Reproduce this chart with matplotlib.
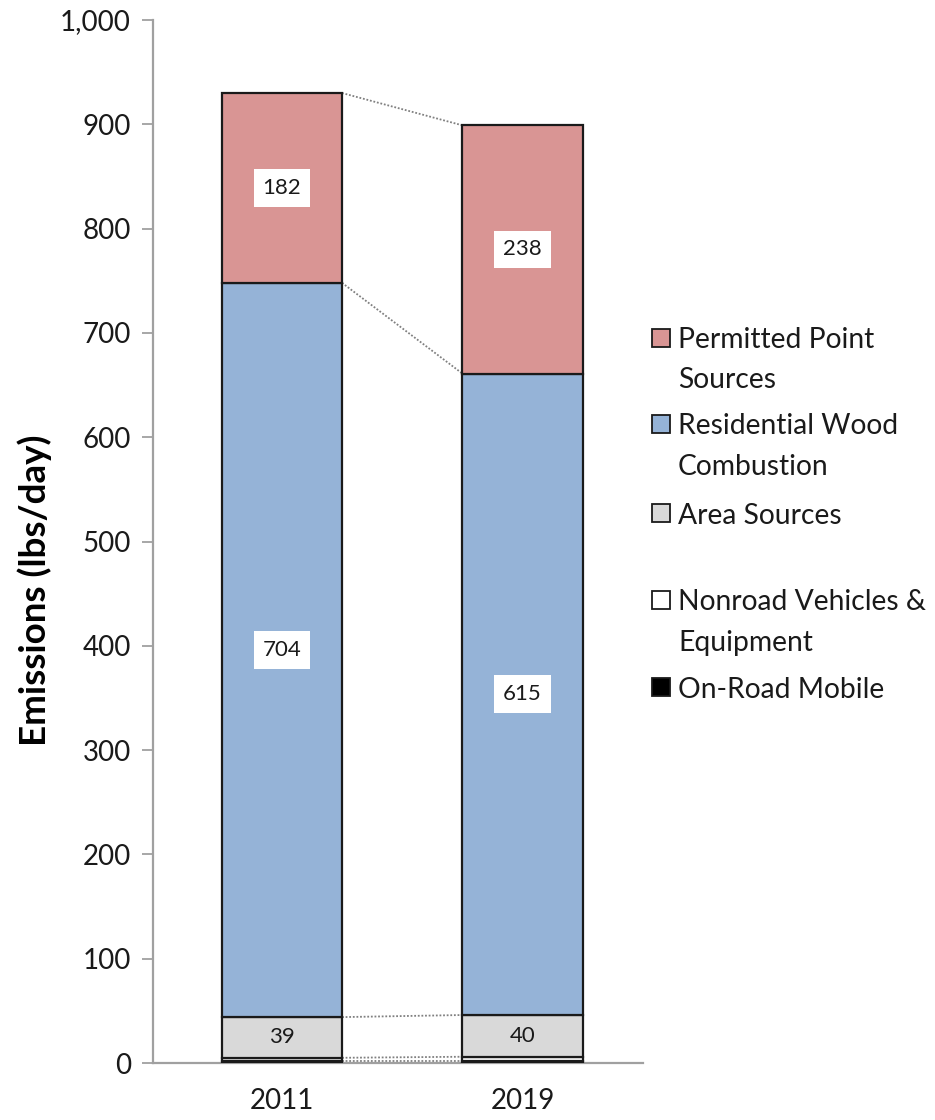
import matplotlib
matplotlib.use("Agg")
import matplotlib.pyplot as plt
from matplotlib.patches import Rectangle
import numpy as np

plt.rcParams['font.family'] = ['Lato', 'DejaVu Sans']

years = ["2011", "2019"]
series = [
    "On-Road Mobile",
    "Nonroad Vehicles &\nEquipment",
    "Area Sources",
    "Residential Wood\nCombustion",
    "Permitted Point\nSources",
]
on_road = [2, 2]
nonroad = [3, 4]
area = [39, 40]
wood = [704, 615]
point = [182, 238]
values = [on_road, nonroad, area, wood, point]
colors = ["#000000", "#FFFFFF", "#D9D9D9", "#95B3D7", "#D99594"]
show_label = [False, False, True, True, True]
boxed_label = [False, False, False, True, True]

fig = plt.figure(figsize=(9.35, 11.2), dpi=100)
ax = fig.add_axes([153 / 935, 1 - 1063 / 1120, 490 / 935, 1043 / 1120])

x = np.arange(len(years))
width = 0.5
bottom = np.zeros(len(years))
tops = []
for vals, col, lab, boxed in zip(values, colors, show_label, boxed_label):
    vals = np.array(vals, dtype=float)
    ax.bar(x, vals, width, bottom=bottom, color=col, edgecolor="#1a1a1a",
           linewidth=1.6, zorder=3)
    if lab:
        for xi, v, b in zip(x, vals, bottom):
            bbox = dict(boxstyle="square,pad=0.4", fc="white", ec="none") if boxed else None
            ax.text(xi, b + v / 2, f"{int(v)}", ha="center", va="center",
                    fontsize=16, color="#1a1a1a", bbox=bbox, zorder=5)
    bottom = bottom + vals
    tops.append(bottom.copy())

# series connector lines between the two bars
for t in tops:
    ax.plot([x[0] + width / 2, x[1] - width / 2], [t[0], t[1]],
            linestyle=(0, (1, 1)), color="#808080", linewidth=1.3, zorder=2)

ax.set_xlim(-0.535, 1.5)
ax.set_ylim(0, 1000)
ax.set_yticks(np.arange(0, 1001, 100))
ax.set_yticklabels([f"{v:,}" for v in range(0, 1001, 100)])
ax.set_xticks(x)
ax.set_xticklabels(years)
ax.tick_params(axis="y", direction="out", length=8, width=1.3, color="#A0A0A0",
               labelsize=20, pad=8, labelcolor="#1a1a1a")
ax.tick_params(axis="x", length=0, labelsize=20, pad=18, labelcolor="#1a1a1a")
for s in ["top", "right"]:
    ax.spines[s].set_visible(False)
for s in ["left", "bottom"]:
    ax.spines[s].set_color("#A0A0A0")
    ax.spines[s].set_linewidth(1.6)

ax.set_ylabel("Emissions (lbs/day)", fontsize=26.5, fontweight="bold", color="black")
ax.yaxis.set_label_coords((35 - 153) / 490, 1 - (590 - 20) / 1043)
ax.yaxis.label.set_va("center")

# legend, drawn top to bottom
legend_y = [338, 424, 513, 600, 687]
line_gap = 40
for name, col, ypx in zip(series[::-1], colors[::-1], legend_y):
    yf = 1 - ypx / 1120
    fig.patches.append(Rectangle((652 / 935, yf - 9 / 1120), 18 / 935, 18 / 1120,
                                 transform=fig.transFigure, fc=col, ec="#1a1a1a",
                                 lw=1.3))
    for i, line in enumerate(name.split("\n")):
        fig.text(678 / 935, 1 - (ypx + i * line_gap) / 1120, line, ha="left",
                 va="center_baseline", fontsize=20.3, color="#1a1a1a")

fig.savefig("out.png", dpi=100)
